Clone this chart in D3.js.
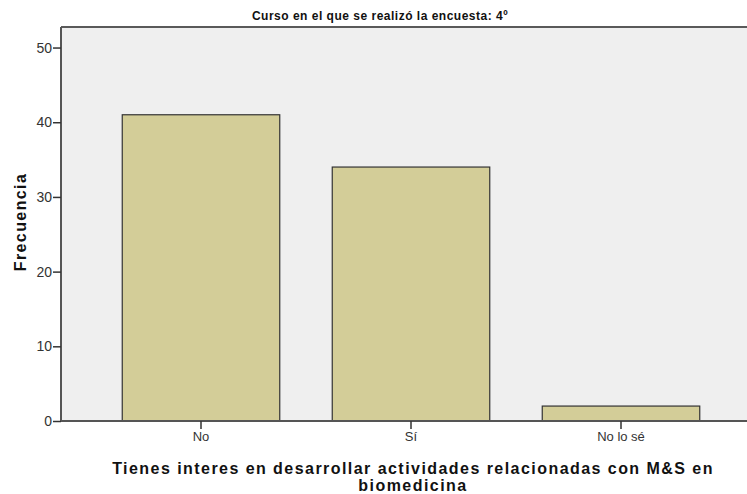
<!DOCTYPE html>
<html>
<head>
<meta charset="utf-8">
<script src="https://cdn.jsdelivr.net/npm/d3@7"></script>
<style>
  body { margin: 0; background: #fff; }
  svg { display: block; font-family: Arial, "Liberation Sans", sans-serif; }
</style>
</head>
<body>
<svg id="chart" width="747" height="494"></svg>
<script>
const categories = ["No", "Sí", "No lo sé"];
const counts = [41, 34, 2];
const yTicks = [0, 10, 20, 30, 40, 50];

const PLOT_LEFT = 61;
const PLOT_RIGHT = 747;
const PLOT_TOP = 27;
const PLOT_BOTTOM = 421;
const FONT = "Arial, 'Liberation Sans', sans-serif";

const svg = d3.select("#chart");

const y = d3.scaleLinear()
  .domain([0, 52.75])
  .range([PLOT_BOTTOM, PLOT_TOP]);

const x = d3.scaleBand()
  .domain(categories)
  .range([96, 726])
  .paddingInner(0.25)
  .paddingOuter(0.125);

// plot background
svg.append("rect")
  .attr("x", PLOT_LEFT)
  .attr("y", PLOT_TOP)
  .attr("width", PLOT_RIGHT - PLOT_LEFT)
  .attr("height", PLOT_BOTTOM - PLOT_TOP)
  .attr("fill", "#efefef");

// bars
svg.selectAll("rect.bar")
  .data(categories)
  .join("rect")
  .attr("class", "bar")
  .attr("x", d => x(d))
  .attr("y", (d, i) => y(counts[i]))
  .attr("width", x.bandwidth())
  .attr("height", (d, i) => y(0) - y(counts[i]))
  .attr("fill", "#d3cd98")
  .attr("stroke", "#333")
  .attr("stroke-width", 1.2);

// frame top line
svg.append("line")
  .attr("x1", PLOT_LEFT).attr("x2", PLOT_RIGHT)
  .attr("y1", PLOT_TOP).attr("y2", PLOT_TOP)
  .attr("stroke", "#5a5a5a").attr("stroke-width", 2);

// y axis
const yAxis = svg.append("g")
  .attr("transform", `translate(${PLOT_LEFT},0)`)
  .call(d3.axisLeft(y).tickValues(yTicks).tickSize(8).tickPadding(1));
yAxis.select(".domain")
  .attr("d", `M0,${PLOT_TOP}V${PLOT_BOTTOM}`)
  .attr("stroke", "#555").attr("stroke-width", 2);
yAxis.selectAll(".tick line").attr("stroke", "#333").attr("stroke-width", 1.5);
yAxis.selectAll(".tick text")
  .attr("font-size", 14).attr("fill", "#333")
  .attr("font-family", FONT);

// x axis
const xAxis = svg.append("g")
  .attr("transform", `translate(0,${PLOT_BOTTOM})`)
  .call(d3.axisBottom(x).tickSize(8).tickPadding(3));
xAxis.select(".domain")
  .attr("d", `M${PLOT_LEFT},0H${PLOT_RIGHT}`)
  .attr("stroke", "#555").attr("stroke-width", 2);
xAxis.selectAll(".tick line").attr("stroke", "#333").attr("stroke-width", 1.5);
xAxis.selectAll(".tick text")
  .attr("font-size", 13).attr("fill", "#333")
  .attr("font-family", FONT);

// title
svg.append("text")
  .attr("x", 380).attr("y", 20)
  .attr("text-anchor", "middle")
  .attr("font-size", 12).attr("font-weight", "bold").attr("fill", "#111")
  .attr("letter-spacing", 0.5)
  .text("Curso en el que se realizó la encuesta: 4º");

// y label
svg.append("text")
  .attr("transform", "translate(26,222) rotate(-90)")
  .attr("text-anchor", "middle")
  .attr("font-size", 16).attr("font-weight", "bold").attr("fill", "#111")
  .attr("letter-spacing", 1.4)
  .text("Frecuencia");

// x label
const xLabel = svg.append("text")
  .attr("text-anchor", "middle")
  .attr("font-size", 16).attr("font-weight", "bold").attr("fill", "#111")
  .attr("letter-spacing", 1.45);
xLabel.append("tspan").attr("x", 413).attr("y", 474)
  .text("Tienes interes en desarrollar actividades relacionadas con M&S en");
xLabel.append("tspan").attr("x", 413).attr("y", 491)
  .text("biomedicina");
</script>
</body>
</html>
